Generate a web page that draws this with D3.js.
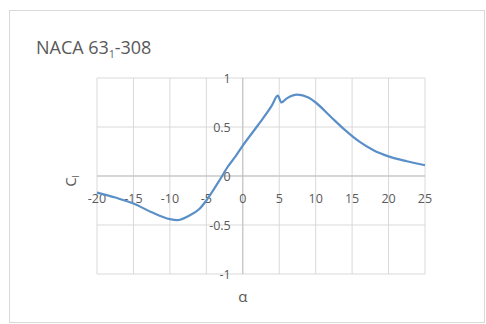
<!DOCTYPE html>
<html>
<head>
<meta charset="utf-8">
<script src="https://cdn.jsdelivr.net/npm/d3@7"></script>
<style>
  body { margin: 0; background: #fff; }
  text { font-family: "Open Sans", "Liberation Sans", sans-serif; fill: #595959; }
</style>
</head>
<body>
<script>
var w = 486, h = 324;

// lift curve
var alpha = [-20, -17.5, -15, -12.5, -10, -9, -7.5, -6, -5, -4, -3, -2, -1, 0, 2, 4, 4.8, 5.3, 6, 7.5, 9, 10, 12, 14, 16, 18, 20, 22.5, 25];
var cl = [-0.17, -0.22, -0.28, -0.37, -0.44, -0.45, -0.41, -0.34, -0.25, -0.14, -0.02, 0.1, 0.2, 0.31, 0.51, 0.72, 0.82, 0.75, 0.79, 0.83, 0.8, 0.75, 0.61, 0.47, 0.35, 0.26, 0.2, 0.15, 0.11];
var xTicks = [-20, -15, -10, -5, 0, 5, 10, 15, 20, 25];
var yTicks = [-1, -0.5, 0, 0.5, 1];

var svg = d3.select("body").append("svg").attr("width", w).attr("height", h);

svg.append("rect")
  .attr("x", 9.5).attr("y", 10.5)
  .attr("width", 475).attr("height", 312)
  .attr("fill", "#fff").attr("stroke", "#d9d9d9");

var x = d3.scaleLinear().domain([-20, 25]).range([97, 425]);
var y = d3.scaleLinear().domain([-1, 1]).range([274, 78]);

// grid
svg.append("g").selectAll("line").data(xTicks).enter().append("line")
  .attr("x1", function(d){ return x(d); }).attr("x2", function(d){ return x(d); })
  .attr("y1", y(1)).attr("y2", y(-1))
  .attr("stroke", "#d9d9d9");
svg.append("g").selectAll("line").data(yTicks).enter().append("line")
  .attr("y1", function(d){ return y(d); }).attr("y2", function(d){ return y(d); })
  .attr("x1", x(-20)).attr("x2", x(25))
  .attr("stroke", "#d9d9d9");

// axes through the origin
svg.append("line").attr("x1", x(0)).attr("x2", x(0)).attr("y1", y(1)).attr("y2", y(-1)).attr("stroke", "#bfbfbf");
svg.append("line").attr("y1", y(0)).attr("y2", y(0)).attr("x1", x(-20)).attr("x2", x(25)).attr("stroke", "#bfbfbf");

// tick labels
svg.append("g").selectAll("text").data(xTicks).enter().append("text")
  .attr("x", function(d){ return x(d); }).attr("y", y(0) + 27)
  .attr("text-anchor", "middle").attr("font-size", "12.5px")
  .text(function(d){ return d; });
svg.append("g").selectAll("text").data(yTicks).enter().append("text")
  .attr("x", x(0) - 12).attr("y", function(d){ return y(d) + 5; })
  .attr("text-anchor", "end").attr("font-size", "12.5px")
  .text(function(d){ return d; });

// curve
var pts = alpha.map(function(a, i){ return [a, cl[i]]; });
svg.append("path")
  .attr("d", d3.line()
    .x(function(d){ return x(d[0]); })
    .y(function(d){ return y(d[1]); })
    .curve(d3.curveMonotoneX)(pts))
  .attr("fill", "none").attr("stroke", "#5b8fc7").attr("stroke-width", 2.2);

// title
var title = svg.append("text").attr("x", 36).attr("y", 54).attr("font-size", "18px");
title.append("tspan").text("NACA 63");
title.append("tspan").attr("font-size", "10px").attr("dy", 4).text("1");
title.append("tspan").attr("dy", -4).text("-308");

// axis titles
var yl = svg.append("text").attr("transform", "translate(76,181) rotate(-90)")
  .attr("text-anchor", "middle").attr("font-size", "15px");
yl.append("tspan").text("C");
yl.append("tspan").attr("font-size", "9px").attr("dy", 3).text("l");

svg.append("text").attr("x", x(0)).attr("y", 302)
  .attr("text-anchor", "middle").attr("font-size", "15px").text("α");
</script>
</body>
</html>
